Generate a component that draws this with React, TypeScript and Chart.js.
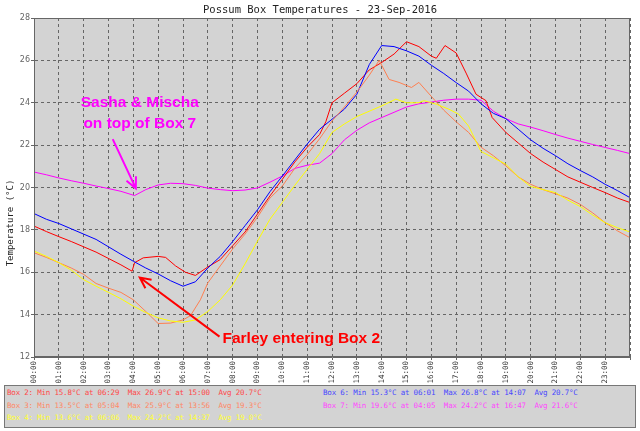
import { useEffect, useRef } from 'react';
import { Chart, registerables } from 'chart.js';

Chart.register(...registerables);

const chartTitle = 'Possum Box Temperatures - 23-Sep-2016';
const yAxisTitle = 'Temperature (°C)';

// [hour of day, temperature °C]
const box2 = [
  [0, 18.18], [0.5, 17.92], [1, 17.68], [1.5, 17.45], [2, 17.2], [2.5, 16.95], [3, 16.65], [3.5, 16.35],
  [3.95, 16.05], [4.05, 16.45], [4.4, 16.68], [5, 16.75], [5.3, 16.7], [5.7, 16.3], [6.1, 16.0], [6.5, 15.85],
  [7, 16.25], [7.5, 16.6], [8, 17.25], [8.5, 17.9], [9, 18.75], [9.5, 19.6], [10, 20.39], [10.5, 21.2],
  [11, 21.9], [11.5, 22.5], [11.75, 23.1], [12, 24.0], [12.5, 24.45], [13, 24.9], [13.5, 25.55], [14, 25.9],
  [14.5, 26.3], [15, 26.88], [15.5, 26.65], [16, 26.2], [16.2, 26.1], [16.55, 26.7], [17, 26.35], [17.4, 25.4],
  [17.8, 24.4], [18.2, 24.1], [18.45, 23.3], [19, 22.6], [19.5, 22.1], [20, 21.6], [20.5, 21.2], [21, 20.85],
  [21.5, 20.5], [22, 20.25], [22.5, 20.0], [23, 19.76], [23.5, 19.5], [24, 19.29],
];
const box3 = [
  [0, 16.92], [0.5, 16.7], [1, 16.45], [1.5, 16.2], [2, 15.9], [2.5, 15.47], [3, 15.25], [3.5, 15.05],
  [4, 14.7], [4.5, 14.15], [5, 13.58], [5.5, 13.6], [6, 13.75], [6.3, 13.95], [6.7, 14.7], [7, 15.5],
  [7.5, 16.3], [8, 17.1], [8.5, 17.8], [9, 18.6], [9.5, 19.5], [10, 20.07], [10.5, 20.9], [11, 21.55],
  [11.5, 22.3], [12, 23.14], [12.5, 23.8], [13, 24.5], [13.5, 25.3], [13.9, 26.0], [14.3, 25.1], [14.7, 24.96],
  [15.2, 24.72], [15.5, 24.96], [16, 24.3], [16.5, 23.65], [17, 23.1], [17.5, 22.6], [18, 21.9], [18.5, 21.5],
  [19, 21.02], [19.5, 20.5], [20, 20.15], [20.5, 19.9], [21, 19.7], [21.5, 19.5], [22, 19.2], [22.5, 18.8],
  [23, 18.34], [23.5, 17.95], [24, 17.63],
];
const box4 = [
  [0, 17.0], [0.5, 16.75], [1, 16.45], [1.5, 16.1], [2, 15.65], [2.5, 15.34], [3, 15.05], [3.5, 14.75],
  [4, 14.4], [4.5, 14.1], [5, 13.85], [5.5, 13.7], [6, 13.64], [6.5, 13.75], [7, 14.15], [7.5, 14.7],
  [8, 15.4], [8.5, 16.4], [9, 17.47], [9.5, 18.5], [10, 19.29], [10.5, 20.1], [11, 20.85], [11.5, 21.6],
  [12, 22.6], [12.5, 23.0], [13, 23.35], [13.5, 23.6], [14, 23.85], [14.57, 24.17], [15, 24.0], [15.5, 24.0],
  [15.7, 24.1], [16.2, 23.93], [16.7, 23.7], [17.1, 23.46], [17.5, 22.9], [18, 21.7], [18.5, 21.4], [19, 21.1],
  [19.5, 20.5], [20, 20.05], [20.5, 19.9], [21, 19.76], [21.5, 19.4], [22, 19.1], [22.5, 18.7], [23, 18.34],
  [23.5, 18.1], [24, 17.9],
];
const box6 = [
  [0, 18.77], [0.5, 18.5], [1, 18.3], [1.5, 18.05], [2, 17.8], [2.5, 17.55], [3, 17.2], [3.5, 16.85],
  [4, 16.52], [4.5, 16.2], [5, 15.92], [5.5, 15.6], [6, 15.34], [6.5, 15.55], [7, 16.2], [7.5, 16.75],
  [8, 17.45], [8.5, 18.2], [9, 18.95], [9.5, 19.8], [10, 20.54], [10.5, 21.3], [11, 22.05], [11.5, 22.75],
  [12, 23.22], [12.5, 23.7], [13, 24.4], [13.5, 25.8], [14, 26.7], [14.5, 26.65], [15, 26.45], [15.5, 26.2],
  [16, 25.77], [16.5, 25.38], [17, 24.95], [17.5, 24.55], [18, 23.95], [18.5, 23.5], [19, 23.25], [19.5, 22.75],
  [20, 22.25], [20.5, 21.85], [21, 21.5], [21.5, 21.12], [22, 20.8], [22.5, 20.5], [23, 20.15], [23.5, 19.85],
  [24, 19.52],
];
const box7 = [
  [0, 20.73], [0.5, 20.6], [1, 20.45], [1.5, 20.32], [2, 20.2], [2.5, 20.07], [3, 19.95], [3.5, 19.82],
  [4.05, 19.62], [4.5, 19.9], [5, 20.12], [5.5, 20.2], [6, 20.18], [6.5, 20.1], [7, 19.97], [7.5, 19.9],
  [8, 19.85], [8.5, 19.88], [9, 19.98], [9.5, 20.25], [10, 20.54], [10.5, 20.9], [11, 21.05], [11.5, 21.15],
  [12, 21.6], [12.5, 22.25], [13, 22.7], [13.5, 23.05], [14, 23.3], [14.5, 23.55], [15, 23.8], [15.5, 23.95],
  [16, 24.03], [16.5, 24.12], [17, 24.17], [17.5, 24.17], [18, 24.12], [18.5, 23.6], [19, 23.25], [19.5, 23.0],
  [20, 22.85], [20.5, 22.68], [21, 22.5], [21.5, 22.33], [22, 22.18], [22.5, 22.03], [23, 21.89], [23.5, 21.75],
  [24, 21.6],
];

const boxNames = ['Box 2', 'Box 3', 'Box 4', 'Box 6', 'Box 7'];
const boxColors = ['#ff0000', '#ff7f50', '#ffff00', '#0000ff', '#ff00ff'];
const statColors = ['#ff4848', '#ff8866', '#ffff30', '#4848ff', '#ff48ff'];
const boxSeries = [box2, box3, box4, box6, box7];
const minTemps = ['15.8', '13.5', '13.6', '15.3', '19.6'];
const minTimes = ['06:29', '05:04', '06:06', '06:01', '04:05'];
const maxTemps = ['26.9', '25.9', '24.2', '26.8', '24.2'];
const maxTimes = ['15:00', '13:56', '14:37', '14:07', '16:47'];
const avgTemps = ['20.7', '19.3', '19.0', '20.7', '21.6'];

// notes: [hour, temp] of text baselines and arrows [fromH, fromT, toH, toT]
const catNoteLines = ['Sasha & Mischa', 'on top of Box 7'];
const catNoteAt = [[4.26, 23.81], [4.26, 22.83]];
const catArrow = [3.17, 22.28, 4.1, 19.96];
const farleyNote = 'Farley entering Box 2';
const farleyNoteAt = [7.59, 12.68];
const farleyArrow = [7.47, 12.96, 4.26, 15.75];

function statLine(i: number) {
  return `${boxNames[i]}: Min ${minTemps[i]}°C at ${minTimes[i]}  Max ${maxTemps[i]}°C at ${maxTimes[i]}  Avg ${avgTemps[i]}°C`;
}

function drawArrow(ctx: CanvasRenderingContext2D, x1: number, y1: number, x2: number, y2: number, color: string) {
  const a = Math.atan2(y2 - y1, x2 - x1);
  const head = 12;
  ctx.save();
  ctx.strokeStyle = color;
  ctx.lineWidth = 2;
  ctx.beginPath();
  ctx.moveTo(x1, y1);
  ctx.lineTo(x2, y2);
  ctx.moveTo(x2 - head * Math.cos(a - 0.45), y2 - head * Math.sin(a - 0.45));
  ctx.lineTo(x2, y2);
  ctx.lineTo(x2 - head * Math.cos(a + 0.45), y2 - head * Math.sin(a + 0.45));
  ctx.stroke();
  ctx.restore();
}

const decorPlugin = {
  id: 'decor',
  beforeDraw(chart: any) {
    const { ctx, chartArea: a } = chart;
    ctx.save();
    ctx.fillStyle = '#d3d3d3';
    ctx.fillRect(a.left, a.top, a.right - a.left, a.bottom - a.top);
    ctx.restore();
  },
  afterDatasetsDraw(chart: any) {
    const { ctx, chartArea: a, scales } = chart;
    const px = (h: number) => scales.x.getPixelForValue(h);
    const py = (t: number) => scales.y.getPixelForValue(t);
    ctx.save();
    ctx.strokeStyle = '#666';
    ctx.lineWidth = 1;
    ctx.strokeRect(a.left + 0.5, a.top + 0.5, a.right - a.left - 1, a.bottom - a.top - 1);

    ctx.font = 'bold 15.5px "Liberation Sans", Arial, sans-serif';
    ctx.fillStyle = '#ff00ff';
    ctx.textAlign = 'center';
    ctx.textBaseline = 'alphabetic';
    catNoteLines.forEach((line, i) => {
      ctx.fillText(line, px(catNoteAt[i][0]), py(catNoteAt[i][1]));
    });
    drawArrow(ctx, px(catArrow[0]), py(catArrow[1]), px(catArrow[2]), py(catArrow[3]), '#ff00ff');

    ctx.fillStyle = '#ff0000';
    ctx.textAlign = 'left';
    ctx.fillText(farleyNote, px(farleyNoteAt[0]), py(farleyNoteAt[1]));
    drawArrow(ctx, px(farleyArrow[0]), py(farleyArrow[1]), px(farleyArrow[2]), py(farleyArrow[3]), '#ff0000');
    ctx.restore();
  },
  afterDraw(chart: any) {
    const { ctx, width } = chart;
    ctx.save();
    ctx.fillStyle = '#222';
    ctx.font = '10.5px "DejaVu Sans Mono", monospace';
    ctx.textAlign = 'center';
    ctx.textBaseline = 'alphabetic';
    ctx.fillText(chartTitle, width / 2, 12.5);

    ctx.font = '9px "DejaVu Sans Mono", monospace';
    ctx.translate(11, 223);
    ctx.rotate(-Math.PI / 2);
    ctx.textBaseline = 'middle';
    ctx.fillText(yAxisTitle, 0, 0);
    ctx.restore();
  },
};

export default function App() {
  const canvasRef = useRef<HTMLCanvasElement>(null);

  useEffect(() => {
    document.body.style.margin = '0';
    if (!canvasRef.current) return;

    const order = [2, 1, 3, 0, 4];
    const chart = new Chart(canvasRef.current, {
      type: 'line',
      data: {
        datasets: order.map((i) => ({
          label: boxNames[i],
          data: boxSeries[i].map(([x, y]) => ({ x, y })),
          borderColor: boxColors[i],
          borderWidth: 1,
          pointRadius: 0,
          tension: 0,
          fill: false,
        })),
      },
      options: {
        responsive: true,
        maintainAspectRatio: false,
        animation: false,
        layout: { padding: { top: 18, right: 8, bottom: 46, left: 0 } },
        scales: {
          x: {
            type: 'linear',
            min: 0,
            max: 24,
            afterFit: (s: any) => { s.height = 28; },
            ticks: {
              stepSize: 1,
              autoSkip: false,
              minRotation: 90,
              maxRotation: 90,
              padding: 1,
              color: '#333',
              font: { family: '"DejaVu Sans Mono", monospace', size: 7.5 },
              callback: (v: any) => (v < 24 ? String(v).padStart(2, '0') + ':00' : ''),
            },
            grid: { color: '#666', tickLength: 3, lineWidth: 1 },
            border: { color: '#666', dash: [3, 3] },
          },
          y: {
            min: 12,
            max: 28,
            afterFit: (s: any) => { s.width = 34; },
            ticks: {
              stepSize: 2,
              padding: 1,
              color: '#666',
              font: { family: '"DejaVu Sans", sans-serif', size: 8 },
            },
            grid: { color: '#666', tickLength: 3, lineWidth: 1 },
            border: { color: '#666', dash: [3, 3] },
          },
        },
        plugins: {
          legend: { display: false },
          tooltip: { enabled: false },
          title: { display: false },
        },
      },
      plugins: [decorPlugin],
    });

    return () => chart.destroy();
  }, []);

  const rowStyle = (i: number) => ({ color: statColors[i], height: 12.7, whiteSpace: 'pre' as const });

  return (
    <div style={{ position: 'relative', width: 640, height: 431, background: '#fff' }}>
      <canvas ref={canvasRef} />
      <div
        style={{
          position: 'absolute',
          left: 4,
          top: 385,
          width: 632,
          height: 43,
          boxSizing: 'border-box',
          border: '1px solid #777',
          background: '#d3d3d3',
          fontFamily: '"DejaVu Sans Mono", monospace',
          fontSize: 7.5,
          letterSpacing: -0.2,
          lineHeight: '12.7px',
        }}
      >
        <div style={{ position: 'absolute', left: 2, top: 1 }}>
          {[0, 1, 2].map((i) => (
            <div key={i} style={rowStyle(i)}>{statLine(i)}</div>
          ))}
        </div>
        <div style={{ position: 'absolute', left: 318, top: 1 }}>
          {[3, 4].map((i) => (
            <div key={i} style={rowStyle(i)}>{statLine(i)}</div>
          ))}
        </div>
      </div>
    </div>
  );
}
